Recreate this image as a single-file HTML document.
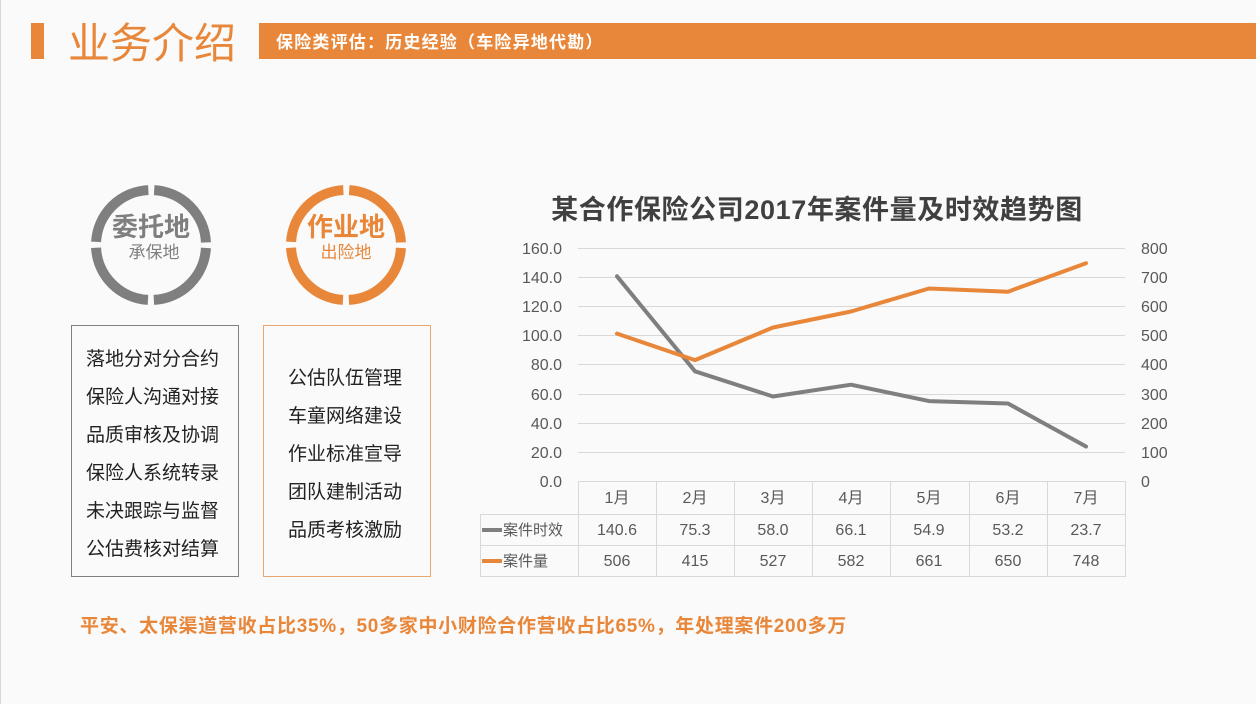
<!DOCTYPE html>
<html><head><meta charset="utf-8"><style>
html,body{margin:0;padding:0;}
body{width:1256px;height:704px;background:#fafafa;position:relative;overflow:hidden;font-family:"Liberation Sans","Noto Sans CJK SC",sans-serif;}
</style></head><body>
<svg width="1256" height="704" viewBox="0 0 1256 704" xmlns="http://www.w3.org/2000/svg" style="position:absolute;left:0;top:0;font-family:'Liberation Sans','Noto Sans CJK SC',sans-serif">
<rect x="0" y="0" width="1256" height="704" fill="#fafafa"/>
<line x1="0.5" y1="0" x2="0.5" y2="704" stroke="#d8d8d8"/>
<rect x="31" y="23" width="13" height="36" fill="#e8873a"/>
<text x="68" y="58" font-size="42" fill="#e8873a">业务介绍</text>
<rect x="259" y="23" width="997" height="36" fill="#e8873a"/>
<text x="276" y="48" font-size="17" font-weight="bold" fill="#fff" letter-spacing="1.2">保险类评估：历史经验（车险异地代勘）</text>

<g fill="none" stroke-width="10">
<circle cx="151" cy="245" r="55" stroke="#7f7f7f" stroke-dasharray="80.4 6" stroke-dashoffset="-3"/>
<circle cx="346" cy="245" r="55" stroke="#e8873a" stroke-dasharray="80.4 6" stroke-dashoffset="-3"/>
</g>
<text x="151" y="236" font-size="26" font-weight="bold" fill="#7f7f7f" text-anchor="middle">委托地</text>
<text x="154" y="258" font-size="17" fill="#7f7f7f" text-anchor="middle">承保地</text>
<text x="346" y="236" font-size="26" font-weight="bold" fill="#e8873a" text-anchor="middle">作业地</text>
<text x="346" y="258" font-size="17" fill="#e8873a" text-anchor="middle">出险地</text>

<rect x="71.5" y="325.5" width="167" height="251" fill="none" stroke="#808080"/>
<rect x="263.5" y="325.5" width="167" height="251" fill="none" stroke="#e8a870"/>
<g font-size="19" fill="#222">
<text x="86" y="365">落地分对分合约</text>
<text x="86" y="403">保险人沟通对接</text>
<text x="86" y="441">品质审核及协调</text>
<text x="86" y="479">保险人系统转录</text>
<text x="86" y="517">未决跟踪与监督</text>
<text x="86" y="555">公估费核对结算</text>
<text x="288" y="384">公估队伍管理</text>
<text x="288" y="422">车童网络建设</text>
<text x="288" y="460">作业标准宣导</text>
<text x="288" y="498">团队建制活动</text>
<text x="288" y="536">品质考核激励</text>
</g>

<text x="817" y="219" font-size="27" font-weight="bold" fill="#404040" text-anchor="middle" letter-spacing="0.6">某合作保险公司2017年案件量及时效趋势图</text>
<g stroke="#d9d9d9" stroke-width="1">
<line x1="578" y1="248.5" x2="1125" y2="248.5"/>
<line x1="578" y1="277.5" x2="1125" y2="277.5"/>
<line x1="578" y1="306.5" x2="1125" y2="306.5"/>
<line x1="578" y1="335.5" x2="1125" y2="335.5"/>
<line x1="578" y1="364.5" x2="1125" y2="364.5"/>
<line x1="578" y1="394.5" x2="1125" y2="394.5"/>
<line x1="578" y1="423.5" x2="1125" y2="423.5"/>
<line x1="578" y1="452.5" x2="1125" y2="452.5"/>
<line x1="578" y1="481.5" x2="1125" y2="481.5"/>
<line x1="480" y1="514.5" x2="1125" y2="514.5"/>
<line x1="480" y1="545.5" x2="1125" y2="545.5"/>
<line x1="480" y1="576.5" x2="1125" y2="576.5"/>
<line x1="480.5" y1="514" x2="480.5" y2="577"/>
<line x1="578.5" y1="481" x2="578.5" y2="577"/>
<line x1="656.5" y1="481" x2="656.5" y2="577"/>
<line x1="734.5" y1="481" x2="734.5" y2="577"/>
<line x1="812.5" y1="481" x2="812.5" y2="577"/>
<line x1="890.5" y1="481" x2="890.5" y2="577"/>
<line x1="969.5" y1="481" x2="969.5" y2="577"/>
<line x1="1047.5" y1="481" x2="1047.5" y2="577"/>
<line x1="1125.5" y1="481" x2="1125.5" y2="577"/>
</g>
<g font-size="16" fill="#595959" text-anchor="end">
<text x="562" y="254">160.0</text><text x="562" y="283">140.0</text><text x="562" y="312">120.0</text>
<text x="562" y="341">100.0</text><text x="562" y="370">80.0</text><text x="562" y="400">60.0</text>
<text x="562" y="429">40.0</text><text x="562" y="458">20.0</text><text x="562" y="487">0.0</text>
</g>
<g font-size="16" fill="#595959">
<text x="1141" y="254">800</text><text x="1141" y="283">700</text><text x="1141" y="312">600</text>
<text x="1141" y="341">500</text><text x="1141" y="370">400</text><text x="1141" y="400">300</text>
<text x="1141" y="429">200</text><text x="1141" y="458">100</text><text x="1141" y="487">0</text>
</g>
<polyline points="617,276.3 695,371.3 773,396.5 851,384.7 929,401.1 1008,403.5 1086,446.5" fill="none" stroke="#7f7f7f" stroke-width="4" stroke-linejoin="round" stroke-linecap="round"/>
<polyline points="617,333.6 695,360.1 773,327.5 851,311.5 929,288.5 1008,291.7 1086,263.2" fill="none" stroke="#e8873a" stroke-width="4" stroke-linejoin="round" stroke-linecap="round"/>
<g font-size="16" fill="#595959" text-anchor="middle">
<text x="617" y="503">1月</text><text x="695" y="503">2月</text><text x="773" y="503">3月</text><text x="851" y="503">4月</text><text x="929" y="503">5月</text><text x="1008" y="503">6月</text><text x="1086" y="503">7月</text>
<text x="617" y="535">140.6</text><text x="695" y="535">75.3</text><text x="773" y="535">58.0</text><text x="851" y="535">66.1</text><text x="929" y="535">54.9</text><text x="1008" y="535">53.2</text><text x="1086" y="535">23.7</text>
<text x="617" y="566">506</text><text x="695" y="566">415</text><text x="773" y="566">527</text><text x="851" y="566">582</text><text x="929" y="566">661</text><text x="1008" y="566">650</text><text x="1086" y="566">748</text>
</g>
<line x1="482" y1="530" x2="502" y2="530" stroke="#7f7f7f" stroke-width="4"/>
<line x1="482" y1="561" x2="502" y2="561" stroke="#e8873a" stroke-width="4"/>
<text x="503" y="535" font-size="15" fill="#595959">案件时效</text>
<text x="503" y="566" font-size="15" fill="#595959">案件量</text>

<text x="80" y="632" font-size="19" font-weight="bold" fill="#e8873a" letter-spacing="0.7">平安、太保渠道营收占比35%，50多家中小财险合作营收占比65%，年处理案件200多万</text>
</svg>
</body></html>
